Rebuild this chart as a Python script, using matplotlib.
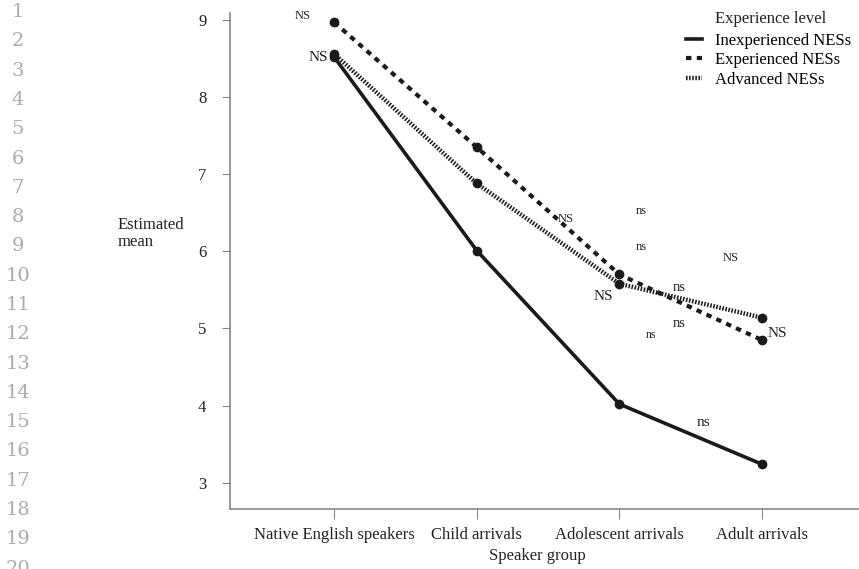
import numpy as np
import matplotlib.pyplot as plt
from matplotlib.lines import Line2D

groups = ["Native English speakers", "Child arrivals", "Adolescent arrivals", "Adult arrivals"]
inexperienced = [8.52, 6.01, 4.02, 3.24]
experienced = [8.97, 7.35, 5.70, 4.85]
advanced = [8.56, 6.88, 5.58, 5.14]

# significance labels: (text, x, y, size)
sig_labels = [
    ("NS", -0.22, 9.05, 9), ("NS", -0.11, 8.51, 11), ("NS", 1.62, 6.42, 9),
    ("ns", 2.15, 6.52, 9), ("ns", 2.15, 6.06, 9), ("NS", 2.78, 5.92, 9),
    ("NS", 1.89, 5.42, 11), ("ns", 2.42, 5.53, 10.5), ("ns", 2.42, 5.07, 10.5),
    ("ns", 2.22, 4.91, 8.5), ("NS", 3.11, 4.94, 11), ("ns", 2.59, 3.78, 11),
]

plt.rcParams['font.family'] = ['Liberation Serif', 'DejaVu Serif']
fig = plt.figure(figsize=(8.59, 5.69), dpi=100)
ax = fig.add_axes([230 / 859, 60 / 569, 629 / 859, 496 / 569])

styles = {
    "Inexperienced NESs": dict(lw=2.6, ls="-"),
    "Experienced NESs": dict(lw=3, ls=(0, (1.3, 1.3))),
    "Advanced NESs": dict(lw=3.2, ls=(0, (0.35, 0.35))),
}
x = np.arange(len(groups))
for name, vals in zip(styles, [inexperienced, experienced, advanced]):
    ax.plot(x, vals, color="#1a1a1a", marker="o", ms=6, **styles[name])

for txt, tx, ty, sz in sig_labels:
    ax.text(tx, ty, txt, fontsize=sz, ha="center", va="center", color="#222222")

ax.set_xlim(-0.73, 3.68)
ax.set_ylim(2.66, 9.09)
ax.set_yticks([3, 4, 5, 6, 7, 8, 9])
ax.set_xticks(x)
ax.set_xticklabels(groups)
ax.tick_params(axis="both", labelsize=12, colors="#222222")
ax.tick_params(axis="y", length=6, color="#888888", pad=11)
ax.tick_params(axis="x", length=7, color="#888888", pad=6)
for s in ["top", "right"]:
    ax.spines[s].set_visible(False)
for s in ["left", "bottom"]:
    ax.spines[s].set_color("#888888")
    ax.spines[s].set_linewidth(1.2)

ax.set_xlabel("Speaker group", fontsize=12, color="#222222")
ax.xaxis.set_label_coords((537 - 230) / 629, -(548 - 509) / 496)
fig.text(118 / 859, 1 - 225 / 569, "Estimated", fontsize=12, color="#222222", va="center")
fig.text(118 / 859, 1 - 242 / 569, "mean", fontsize=12, color="#222222", va="center")

# legend
handles = [Line2D([], [], color="#1a1a1a", **styles[n]) for n in styles]
fig.text(715 / 859, 1 - 19 / 569, "Experience level", fontsize=12, color="#222222", va="center")
ax.legend(handles, list(styles), loc="upper left",
          bbox_to_anchor=(686 / 859, 1 - 33 / 569), bbox_transform=fig.transFigure,
          frameon=False, fontsize=12, handlelength=0.95, handletextpad=0.8,
          labelspacing=0.2, borderpad=0, borderaxespad=0)

# manuscript line numbers
for i in range(20):
    fig.text(18 / 859, 1 - (12 + i * 29.3) / 569, str(i + 1), fontsize=14,
             color="#aaaaaa", ha="center", va="center", family="DejaVu Serif")

fig.savefig("out.png", dpi=100)
